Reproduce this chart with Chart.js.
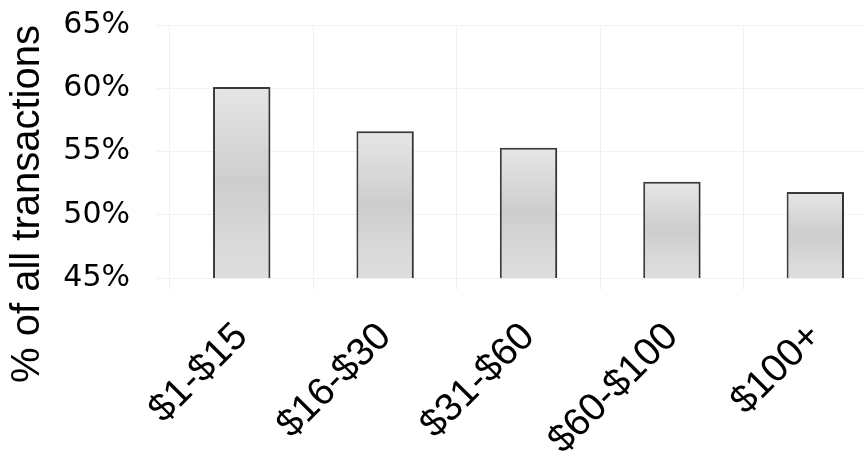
<!DOCTYPE html>
<html lang="en">
<head>
    <meta charset="UTF-8">
    <title>Transactions by amount</title>
    <style>
        html, body { margin: 0; padding: 0; background: #fff; overflow: hidden; }
        #wrap { width: 865px; height: 458px; overflow: hidden; }
    </style>
</head>
<body>
    <div id="wrap">
        <canvas id="bar-chart" width="900" height="458"></canvas>
    </div>
    <script src="https://cdn.jsdelivr.net/npm/chart.js@4/dist/chart.umd.min.js"></script>
    <script>
        // data
        const categories = ['$1-$15', '$16-$30', '$31-$60', '$60-$100', '$100+'];
        const shareValues = [60.1, 56.6, 55.3, 52.6, 51.8];
        const yTicks = [45, 50, 55, 60, 65];
        const yTitle = '% of all transactions';

        // vertical grey gradient for each bar, like the original
        function barFill(ctx) {
            const chart = ctx.chart;
            const area = chart.chartArea;
            if (!area || ctx.parsed == null) return '#d8d8d8';
            const top = chart.scales.y.getPixelForValue(ctx.parsed.y);
            const g = chart.ctx.createLinearGradient(0, top, 0, area.bottom);
            g.addColorStop(0, '#e6e6e6');
            g.addColorStop(0.5, '#cdcdcd');
            g.addColorStop(0.8, '#d9d9d9');
            g.addColorStop(1, '#dedede');
            return g;
        }

        // soft shadow on the right side of the bars
        const barShadow = {
            id: 'barShadow',
            beforeDatasetsDraw(chart) {
                const c = chart.ctx;
                c.save();
                c.shadowColor = 'rgba(0,0,0,0.18)';
                c.shadowOffsetX = 3;
                c.shadowOffsetY = 0;
                c.shadowBlur = 2;
            },
            afterDatasetsDraw(chart) {
                chart.ctx.restore();
            }
        };

        // the axis title sits lower than the plot centre in the original
        const sideTitle = {
            id: 'sideTitle',
            afterDraw(chart) {
                const c = chart.ctx;
                c.save();
                c.translate(28, 204);
                c.rotate(-Math.PI / 2);
                c.font = '40px "Liberation Sans"';
                c.fillStyle = '#000';
                c.textAlign = 'center';
                c.textBaseline = 'middle';
                c.fillText(yTitle, 0, 0);
                c.restore();
            }
        };

        new Chart(document.getElementById('bar-chart'), {
            type: 'bar',
            data: {
                labels: categories,
                datasets: [{
                    data: shareValues,
                    backgroundColor: barFill,
                    borderColor: '#3c3c3c',
                    borderWidth: { left: 2, right: 2, top: 2, bottom: 0 },
                    borderSkipped: 'bottom',
                    barPercentage: 0.4,
                    categoryPercentage: 1
                }]
            },
            plugins: [barShadow, sideTitle],
            options: {
                responsive: false,
                animation: false,
                layout: { padding: { top: 25, right: 13, left: 8, bottom: 0 } },
                plugins: { legend: { display: false }, tooltip: { enabled: false } },
                scales: {
                    x: {
                        grid: { color: '#f1f1f1', tickLength: 12, offset: true },
                        border: { display: false },
                        ticks: {
                            color: '#000',
                            font: { family: 'Liberation Sans', size: 39 },
                            maxRotation: 45,
                            minRotation: 45,
                            padding: 24
                        },
                        afterFit(scale) { scale.height = 180; }
                    },
                    y: {
                        min: 45,
                        max: 65,
                        afterBuildTicks(scale) { scale.ticks = yTicks.map(v => ({ value: v })); },
                        grid: { color: '#f1f1f1', tickLength: 13 },
                        border: { display: false },
                        ticks: {
                            color: '#000',
                            font: { family: 'DejaVu Sans', size: 30 },
                            padding: 27,
                            callback: v => v + '%'
                        },
                        afterFit(scale) {
                            scale.width = 162;
                            scale.paddingTop = 0;
                            scale.paddingBottom = 0;
                        }
                    }
                }
            }
        });
    </script>
</body>
</html>
